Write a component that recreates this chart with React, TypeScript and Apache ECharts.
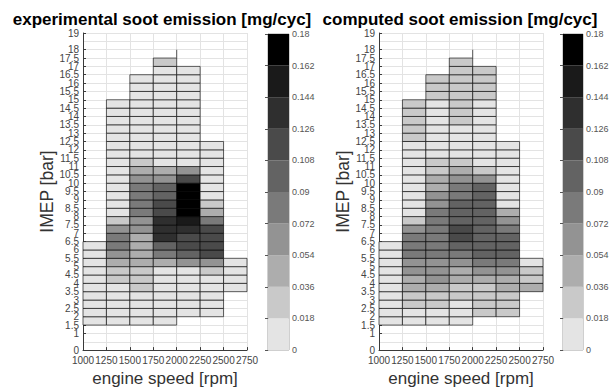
import React, { useEffect, useRef } from "react";
import * as echarts from "echarts";

// engine speed columns (lower edge of each cell, rpm) and IMEP start of each column (bar)
const speeds = [1000, 1250, 1500, 1750, 2000, 2250, 2500];
const columnStartImep = [1.5, 1.5, 1.5, 1.5, 2, 2, 3.5];
const speedStep = 250;
const imepStep = 0.5;

// experimental soot emission [mg/cyc], each list from lowest IMEP cell upwards
const exp1000 = [0.006, 0.007, 0.008, 0.008, 0.009, 0.01, 0.01, 0.011, 0.012, 0.013];
const exp1250 = [0.008, 0.009, 0.01, 0.012, 0.015, 0.022, 0.026, 0.044, 0.06, 0.075, 0.078, 0.058, 0.025,
  0.015, 0.013, 0.012, 0.011, 0.01, 0.01, 0.009, 0.009, 0.008, 0.008, 0.008, 0.007, 0.007, 0.007];
const exp1500 = [0.009, 0.01, 0.012, 0.015, 0.02, 0.025, 0.03, 0.04, 0.042, 0.045, 0.05, 0.056, 0.062,
  0.075, 0.08, 0.082, 0.076, 0.064, 0.046, 0.025,
  0.016, 0.014, 0.012, 0.011, 0.01, 0.01, 0.009, 0.009, 0.008, 0.008];
const exp1750 = [0.007, 0.008, 0.009, 0.01, 0.012, 0.014, 0.017, 0.04, 0.08, 0.095, 0.13, 0.135, 0.128,
  0.115, 0.11, 0.1, 0.092, 0.062, 0.044,
  0.016, 0.015, 0.013, 0.012, 0.011, 0.01, 0.01, 0.01, 0.011, 0.012, 0.014, 0.016, 0.028];
const exp2000 = [0.008, 0.009, 0.01, 0.011, 0.013, 0.016, 0.065, 0.098, 0.112, 0.118, 0.132, 0.155,
  0.172, 0.178, 0.18, 0.17, 0.115, 0.06,
  0.017, 0.015, 0.013, 0.012, 0.011, 0.01, 0.01, 0.01, 0.011, 0.012, 0.013, 0.015];
const exp2250 = [0.008, 0.009, 0.01, 0.012, 0.015, 0.028, 0.062, 0.11, 0.115, 0.112, 0.108, 0.08, 0.044,
  0.026, 0.016, 0.014, 0.012, 0.011, 0.01, 0.01, 0.009];
const exp2500 = [0.008, 0.009, 0.01, 0.012];

// computed soot emission [mg/cyc]
const cmp1000 = [0.01, 0.011, 0.012, 0.012, 0.013, 0.013, 0.014, 0.014, 0.015, 0.015];
const cmp1250 = [0.012, 0.016, 0.024, 0.03, 0.04, 0.048, 0.058, 0.066, 0.075, 0.078, 0.074, 0.062, 0.03,
  0.017, 0.015, 0.014, 0.013, 0.012, 0.012, 0.013, 0.014, 0.016, 0.019, 0.021, 0.022, 0.023, 0.024];
const cmp1500 = [0.013, 0.017, 0.026, 0.033, 0.044, 0.056, 0.062, 0.068, 0.074, 0.078, 0.08, 0.08, 0.078,
  0.073, 0.066, 0.058, 0.048, 0.04, 0.03, 0.022,
  0.017, 0.015, 0.013, 0.012, 0.012, 0.013, 0.015, 0.019, 0.021, 0.022];
const cmp1750 = [0.012, 0.014, 0.017, 0.025, 0.034, 0.042, 0.05, 0.064, 0.08, 0.096, 0.11, 0.112, 0.104,
  0.1, 0.094, 0.088, 0.077, 0.062, 0.046, 0.03,
  0.017, 0.015, 0.016, 0.017, 0.019, 0.021, 0.022, 0.024, 0.025, 0.026, 0.028, 0.03];
const cmp2000 = [0.02, 0.024, 0.028, 0.034, 0.044, 0.058, 0.074, 0.092, 0.096, 0.098, 0.1, 0.102, 0.104,
  0.102, 0.098, 0.092, 0.065, 0.032,
  0.017, 0.015, 0.014, 0.013, 0.013, 0.014, 0.015, 0.017, 0.019, 0.021, 0.022, 0.024];
const cmp2250 = [0.02, 0.025, 0.03, 0.04, 0.048, 0.058, 0.075, 0.092, 0.096, 0.094, 0.08, 0.06, 0.042,
  0.016, 0.014, 0.013, 0.012, 0.011, 0.011, 0.012, 0.013];
const cmp2500 = [0.042, 0.032, 0.026, 0.016];

// colour bar levels [mg/cyc] and grey shades of the 10 bands (lowest first)
const levelEdges = [0, 0.018, 0.036, 0.054, 0.072, 0.09, 0.108, 0.126, 0.144, 0.162, 0.18];
const levelColors = ["#e4e4e4", "#c9c9c9", "#adadad", "#939393", "#7a7a7a", "#636363", "#4a4a4a", "#2f2f2f", "#1a1a1a", "#000000"];

// stray edge segment drawn at the top of both maps
const strayEdge = [[2000, 17.5], [2000, 18]];

const FONT = "'Liberation Sans', Arial, Helvetica, sans-serif";

function colorFor(v: number) {
  for (let i = levelEdges.length - 2; i >= 0; i--) {
    if (v >= levelEdges[i]) return levelColors[i];
  }
  return levelColors[0];
}

function buildCells(cols: number[][]) {
  const out: number[][] = [];
  cols.forEach((vals, i) => {
    vals.forEach((v, j) => {
      out.push([speeds[i], columnStartImep[i] + j * imepStep, v]);
    });
  });
  return out;
}

export default function App() {
  const ref = useRef<HTMLDivElement>(null);
  useEffect(() => {
    if (!ref.current) return;
    const chart = echarts.init(ref.current, undefined, { renderer: "svg" });

    const expCells = buildCells([exp1000, exp1250, exp1500, exp1750, exp2000, exp2250, exp2500]);
    const cmpCells = buildCells([cmp1000, cmp1250, cmp1500, cmp1750, cmp2000, cmp2250, cmp2500]);
    const bands = levelColors.map((c, i) => [levelEdges[i], levelEdges[i + 1], i]);

    const mainGrids = [
      { left: 83, top: 33, width: 164, height: 318 },
      { left: 379, top: 33, width: 164, height: 318 },
    ];
    const barGrids = [
      { left: 268, top: 34, width: 21, height: 316, show: true, borderColor: "#a0a0a0", borderWidth: 1 },
      { left: 563, top: 34, width: 20, height: 316, show: true, borderColor: "#a0a0a0", borderWidth: 1 },
    ];

    const mainX = (gi: number) => ({
      type: "value",
      gridIndex: gi,
      min: 1000,
      max: 2750,
      interval: 250,
      name: "engine speed [rpm]",
      nameLocation: "middle",
      nameGap: 17,
      nameTextStyle: { fontSize: 17, color: "#333", fontFamily: FONT },
      axisLine: { show: true, onZero: false, lineStyle: { color: "#3a3a3a", width: 1 } },
      axisTick: { show: true, inside: true, length: 3, lineStyle: { color: "#3a3a3a" } },
      axisLabel: {
        fontSize: 10,
        color: "#444",
        margin: 5,
        fontFamily: FONT,
        showMinLabel: true,
        showMaxLabel: true,
        hideOverlap: false,
        formatter: (v: number) => String(v),
      },
      splitLine: { show: true, lineStyle: { color: "#e3e3e3", width: 1 } },
    });
    const mainY = (gi: number) => ({
      type: "value",
      gridIndex: gi,
      min: 0,
      max: 19,
      interval: 0.5,
      name: "IMEP [bar]",
      nameLocation: "middle",
      nameGap: 27,
      nameTextStyle: { fontSize: 17.5, color: "#333", fontFamily: FONT },
      axisLine: { show: true, onZero: false, lineStyle: { color: "#3a3a3a", width: 1 } },
      axisTick: { show: true, inside: true, length: 3, lineStyle: { color: "#3a3a3a" } },
      axisLabel: {
        fontSize: 10,
        color: "#444",
        margin: 4,
        fontFamily: FONT,
        showMinLabel: true,
        showMaxLabel: true,
        hideOverlap: false,
        formatter: (v: number) => String(v),
      },
      splitLine: { show: true, lineStyle: { color: "#e3e3e3", width: 1 } },
    });
    const barX = (gi: number) => ({
      type: "value",
      gridIndex: gi,
      min: 0,
      max: 1,
      show: false,
    });
    const barY = (gi: number) => ({
      type: "value",
      gridIndex: gi,
      position: "right",
      min: 0,
      max: 0.18,
      interval: 0.018,
      axisLine: { show: true, lineStyle: { color: "#a0a0a0" } },
      axisTick: { show: true, inside: true, length: 3, lineStyle: { color: "#555" } },
      axisLabel: {
        fontSize: 9,
        color: "#555",
        margin: 3,
        fontFamily: FONT,
        showMinLabel: true,
        showMaxLabel: true,
        formatter: (v: number) => String(+v.toFixed(3)),
      },
      splitLine: { show: false },
    });

    const cellSeries = (idx: number, data: number[][]) => ({
      type: "custom",
      xAxisIndex: idx,
      yAxisIndex: idx,
      data,
      encode: { x: 0, y: 1 },
      renderItem: (params: any, api: any) => {
        const x0 = api.value(0);
        const y0 = api.value(1);
        const v = api.value(2);
        const p0 = api.coord([x0, y0 + imepStep]);
        const p1 = api.coord([x0 + speedStep, y0]);
        return {
          type: "rect",
          shape: { x: p0[0], y: p0[1], width: p1[0] - p0[0], height: p1[1] - p0[1] },
          style: { fill: colorFor(v), stroke: "rgba(0,0,0,0.62)", lineWidth: 1 },
        };
      },
      z: 3,
    });

    const barSeries = (idx: number) => ({
      type: "custom",
      xAxisIndex: idx,
      yAxisIndex: idx,
      data: bands,
      encode: { y: [0, 1] },
      renderItem: (params: any, api: any) => {
        const lo = api.value(0);
        const hi = api.value(1);
        const i = api.value(2);
        const p0 = api.coord([0, hi]);
        const p1 = api.coord([1, lo]);
        return {
          type: "rect",
          shape: { x: p0[0], y: p0[1], width: p1[0] - p0[0], height: p1[1] - p0[1] },
          style: { fill: levelColors[i] },
        };
      },
      z: 1,
    });

    const straySeries = (idx: number) => ({
      type: "line",
      xAxisIndex: idx,
      yAxisIndex: idx,
      data: strayEdge,
      symbol: "none",
      lineStyle: { color: "#555", width: 1 },
      z: 4,
    });

    chart.setOption({
      animation: false,
      backgroundColor: "#ffffff",
      textStyle: { fontFamily: FONT },
      grid: [mainGrids[0], barGrids[0], mainGrids[1], barGrids[1]],
      xAxis: [mainX(0), barX(1), mainX(2), barX(3)],
      yAxis: [mainY(0), barY(1), mainY(2), barY(3)],
      series: [
        cellSeries(0, expCells),
        straySeries(0),
        barSeries(1),
        cellSeries(2, cmpCells),
        straySeries(2),
        barSeries(3),
      ],
      graphic: [
        {
          type: "text",
          x: 162,
          y: 19.5,
          style: {
            text: "experimental soot emission [mg/cyc]",
            fontSize: 17,
            fontWeight: "bold",
            fontFamily: FONT,
            fill: "#000",
            align: "center",
            verticalAlign: "middle",
          },
        },
        {
          type: "text",
          x: 460,
          y: 19.5,
          style: {
            text: "computed soot emission [mg/cyc]",
            fontSize: 17,
            fontWeight: "bold",
            fontFamily: FONT,
            fill: "#000",
            align: "center",
            verticalAlign: "middle",
          },
        },
      ],
    });
    return () => chart.dispose();
  }, []);

  return (
    <div
      ref={ref}
      style={{ position: "absolute", left: 0, top: 0, width: 613, height: 392, background: "#fff" }}
    />
  );
}
